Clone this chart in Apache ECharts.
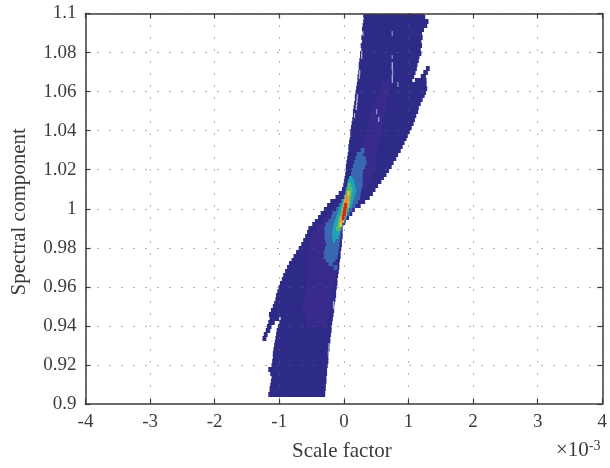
<!DOCTYPE html>
<html><head><meta charset="utf-8">
<script src="https://cdn.jsdelivr.net/npm/echarts@6/dist/echarts.min.js"></script>
<style>html,body{margin:0;padding:0;background:#fff}#c{width:610px;height:468px}</style></head>
<body><div id="c"></div>
<script>
const xTicks = [-4,-3,-2,-1,0,1,2,3,4];
const yTicks = [0.9,0.92,0.94,0.96,0.98,1,1.02,1.04,1.06,1.08,1.1];
// every row: [spectral component, scale factor from, scale factor to] (x in units of 1e-3)
const baseRows = [
[1.099,.30,1.235],[1.098,.31,1.26],[1.096,.30,1.31],[1.094,.29,1.29],[1.092,.28,1.24],[1.090,.29,1.21],[1.088,.27,1.22],[1.086,.28,1.20],[1.084,.26,1.21],[1.082,.27,1.19],
[1.080,.25,1.20],[1.078,.25,1.17],[1.076,.24,1.16],[1.074,.23,1.14],[1.072,.23,1.13],[1.072,1.27,1.33],[1.070,.22,1.11],[1.070,1.23,1.30],[1.068,.21,1.09],[1.068,1.19,1.27],
[1.066,.21,1.06],[1.066,1.10,1.28],[1.064,.20,1.28],[1.062,.19,1.29],[1.060,.18,1.27],[1.058,.17,1.25],[1.056,.17,1.22],[1.054,.16,1.19],[1.052,.15,1.16],[1.050,.14,1.15],
[1.048,.14,1.12],[1.046,.13,1.10],[1.044,.12,1.08],[1.042,.11,1.05],[1.040,.10,1.02],[1.038,.10,.99],[1.036,.09,.97],[1.034,.08,.94],[1.032,.07,.91],[1.030,.07,.88],
[1.028,.06,.84],[1.026,.05,.81],[1.024,.04,.77],[1.022,.03,.74],[1.020,.03,.70],[1.018,.02,.66],[1.016,.01,.62],[1.014,.00,.58],[1.012,-.01,.53],[1.010,-.03,.49],
[1.008,-.08,.45],[1.006,-.13,.40],[1.004,-.21,.33],[1.002,-.26,.26],[1.000,-.31,.17],[.998,-.36,.13],[.996,-.40,.08],[.994,-.45,.03],[.992,-.49,-.01],[.990,-.55,-.02],
[.988,-.57,-.02],[.986,-.60,-.02],[.984,-.63,-.03],[.982,-.66,-.03],[.980,-.70,-.04],[.978,-.74,-.05],[.976,-.78,-.05],[.974,-.81,-.06],[.972,-.85,-.07],[.970,-.88,-.07],
[.968,-.91,-.08],[.966,-.94,-.09],[.964,-.96,-.10],[.962,-.99,-.10],[.960,-1.01,-.11],[.958,-1.03,-.12],[.956,-1.05,-.12],[.954,-1.06,-.13],[.952,-1.08,-.14],[.950,-1.10,-.15],
[.948,-1.13,-.15],[.946,-1.16,-.16],[.944,-1.15,-1.00],[.944,-.98,-.17],[.942,-1.17,-1.07],[.942,-1.00,-.18],[.940,-1.19,-1.12],[.940,-1.02,-.19],[.938,-1.21,-1.14],[.938,-1.04,-.19],
[.936,-1.24,-1.18],[.936,-1.05,-.20],[.934,-1.26,-1.20],[.934,-1.06,-.21],[.932,-1.07,-.21],[.930,-1.08,-.22],[.928,-1.09,-.22],[.926,-1.10,-.23],[.924,-1.10,-.24],[.922,-1.11,-.24],
[.920,-1.12,-.25],[.918,-1.17,-.26],[.916,-1.14,-.26],[.914,-1.12,-.27],[.912,-1.13,-.27],[.910,-1.14,-.28],[.908,-1.15,-.28],[.906,-1.15,-.29],[.905,-1.17,-.29]
];
const purpleRows = [
[1.064,.59,.70],[1.060,.56,.70],[1.056,.50,.67],[1.052,.44,.65],[1.048,.41,.63],[1.044,.37,.60],[1.040,.34,.59],[1.036,.31,.56],[1.032,.29,.52],[1.028,.27,.50],[1.024,.22,.50],[1.020,.16,.46],[1.016,.12,.42],[1.012,.08,.36],
[.994,-.32,.02],[.990,-.42,-.03],[.986,-.49,-.04],[.982,-.52,-.06],[.978,-.57,-.07],[.974,-.57,-.09],[.970,-.57,-.12],[.966,-.57,-.12],[.962,-.58,-.15],[.958,-.58,-.18],[.954,-.62,-.2],[.950,-.64,-.2],[.946,-.60,-.25],[.942,-.58,-.27]
];
const blueRows = [
[1.030,.26,.32],[1.028,.20,.30],[1.026,.18,.34],[1.024,.16,.35],[1.022,.14,.33],[1.020,.12,.30],[1.018,.11,.29],[1.016,.10,.29],[1.014,.08,.29],[1.012,.06,.29],[1.010,.05,.27],[1.008,.03,.26],[1.006,.01,.25],[1.004,-.04,.22],[1.002,-.08,.18],[1.000,-.12,.13],[.998,-.18,.09],[.996,-.2,.05],[.994,-.24,.02],[.992,-.28,-.02],
[.990,-.30,-.04],[.988,-.30,-.05],[.986,-.30,-.05],[.984,-.29,-.06],[.982,-.27,-.07],[.980,-.29,-.08],[.978,-.31,-.09],[.976,-.31,-.10],[.974,-.28,-.13],[.972,-.24,-.17],[.970,-.16,-.10]
];
const tealRows = [
[1.016,.08,.13],[1.014,.06,.16],[1.012,.05,.17],[1.010,.03,.19],[1.008,.02,.18],[1.006,0,.16],[1.004,-.03,.14],[1.002,-.05,.12],[1.000,-.08,.08],[.998,-.10,.05],[.996,-.12,.03],[.994,-.14,.01],[.992,-.16,-.02],[.990,-.17,-.04],[.988,-.18,-.06],[.986,-.18,-.08],[.984,-.17,-.13]
];
const greenRows = [
[1.012,.06,.11],[1.010,.05,.13],[1.008,.04,.12],[1.006,.02,.11],[1.004,0,.10],[1.002,-.02,.09],[1.000,-.04,.06],[.998,-.05,.04],[.996,-.08,.02],[.994,-.09,0],[.992,-.10,-.03],[.990,-.12,-.05]
];
const yellowRows = [
[1.008,.05,.09],[1.006,.02,.08],[1.004,0,.08],[1.002,-.01,.07],[1.000,-.02,.05],[.998,-.03,.04],[.996,-.05,.02],[.994,-.06,0],[.992,-.07,-.03]
];
const orangeRows = [
[1.006,.03,.07],[1.004,.01,.07],[1.002,0,.06],[1.000,-.01,.05],[.998,-.02,.03],[.996,-.04,.01],[.994,-.05,-.01]
];
const redRows = [
[1.002,0,.05],[1.000,-.01,.04],[.998,-.02,.03],[.996,-.03,.01]
];
const emptyRows = [
[1.090,.285,.305],[1.080,.265,.285],[1.078,.265,.285],[1.070,.23,.255],[1.068,.23,.25],[1.058,.20,.22],[1.056,.195,.215],[1.054,.19,.21],[1.052,.18,.205],[1.048,.155,.175],
[1.090,.74,.755],[1.078,.74,.755],[1.074,.74,.76],[1.072,.74,.76],[1.070,.75,.765],[1.068,.74,.76],[1.066,.74,.76],[1.064,.83,.845],[1.050,.50,.515],[1.046,.53,.55],
[.952,-.17,-.15],[.950,-.17,-.15],[.930,-.24,-.22],[.928,-.24,-.22],[.926,-.25,-.23]
];
const FONT = '"Liberation Serif", serif';
const INK = '#3c3c3c';

function layer(rows, color, z, rowStep) {
  return {
    type: 'custom', coordinateSystem: 'cartesian2d', xAxisIndex: 0, yAxisIndex: 0,
    silent: true, animation: false, z: z, clip: true,
    encode: {x: [1, 2], y: 0},
    data: rows,
    renderItem: function (params, api) {
      const a = api.coord([api.value(1), api.value(0) + rowStep / 2]);
      const b = api.coord([api.value(2), api.value(0) - rowStep / 2]);
      return {type: 'rect', shape: {x: a[0], y: Math.round(a[1]), width: b[0] - a[0], height: Math.round(b[1]) - Math.round(a[1]) + 1},
        style: {fill: color}};
    }
  };
}
const axisBase = {
  z: 8,
  axisLine: {show: true, onZero: false, lineStyle: {color: INK, width: 1.5}},
  axisTick: {show: true, inside: true, length: 5, lineStyle: {color: INK, width: 1.2}},
};
const dots = {show: true, lineStyle: {color: '#666', width: 1, type: [1, 11], dashOffset: 0}};
const labelStyle = {fontFamily: FONT, fontSize: 19, color: INK};

const chart = echarts.init(document.getElementById('c'), null, {renderer: 'canvas'});
chart.setOption({
  animation: false,
  backgroundColor: '#fff',
  grid: {left: 85.5, right: 6, top: 13.5, bottom: 64, containLabel: false},
  xAxis: [
    Object.assign({}, axisBase, {type: 'value', position: 'bottom', min: -4, max: 4, interval: 1, splitLine: dots,
      axisLabel: Object.assign({}, labelStyle, {margin: 9, showMinLabel: true, showMaxLabel: true, formatter: v => String(xTicks.find(t => t === v))}),
      name: 'Scale factor', nameLocation: 'middle', nameGap: 37, nameTextStyle: {fontFamily: FONT, fontSize: 21, color: INK, padding: [0, 4, 0, 0]}}),
    Object.assign({}, axisBase, {type: 'value', position: 'top', min: -4, max: 4, interval: 1, splitLine: {show: false}, axisLabel: {show: false}})
  ],
  yAxis: [
    Object.assign({}, axisBase, {type: 'value', position: 'left', min: 0.9, max: 1.1, interval: 0.02, splitLine: dots,
      axisLabel: Object.assign({}, labelStyle, {margin: 9, showMinLabel: true, showMaxLabel: true, formatter: v => String(yTicks.find(t => Math.abs(t - v) < 1e-6))}),
      name: 'Spectral component', nameLocation: 'middle', nameGap: 56, nameTextStyle: {fontFamily: FONT, fontSize: 21, color: INK, padding: [0, 6, 0, 0]}}),
    Object.assign({}, axisBase, {type: 'value', position: 'right', min: 0.9, max: 1.1, interval: 0.02, splitLine: {show: false}, axisLabel: {show: false}})
  ],
  series: [
    layer(baseRows, '#2e2a87', 2, 0.002), layer(purpleRows, '#392b8d', 3, 0.004), layer(blueRows, '#3768b0', 4, 0.002),
    layer(tealRows, '#1fa3b4', 5, 0.002), layer(greenRows, '#56bb72', 6, 0.002), layer(yellowRows, '#e9c436', 7, 0.002),
    layer(orangeRows, '#f0862f', 7.1, 0.002), layer(redRows, '#c92a20', 7.2, 0.002), layer(emptyRows, '#a9a7d2', 7.3, 0.002)
  ],
  graphic: [{
    type: 'text', left: 556, top: 439, z: 20, silent: true,
    style: {
      text: '×10{s|-3}', fontFamily: FONT, fontSize: 21, fill: INK,
      rich: {s: {fontFamily: FONT, fontSize: 14, fill: INK, verticalAlign: 'top', padding: [0, 0, 9, 0]}}
    }
  }]
});
</script></body></html>
